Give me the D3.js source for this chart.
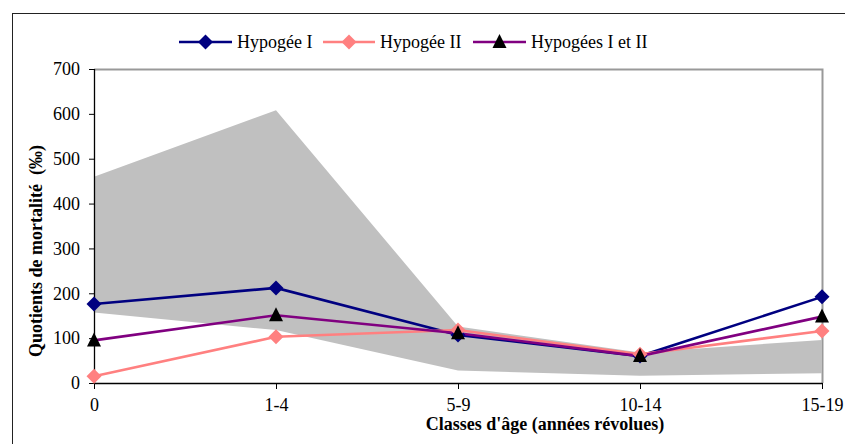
<!DOCTYPE html>
<html>
<head>
<meta charset="utf-8">
<script src="https://cdn.jsdelivr.net/npm/d3@7"></script>
<style>
  body { margin: 0; background: #fff; }
  svg text { font-family: "Liberation Serif", "Times New Roman", serif; fill: #000; }
</style>
</head>
<body>
<svg id="chart" width="845" height="444"></svg>
<script>
const ageClasses = ["0", "1-4", "5-9", "10-14", "15-19"];
const hypogee1 = [176, 212, 107, 60, 192];
const hypogee2 = [15, 103, 118, 64, 116];
const hypogees12 = [95, 151, 111, 60, 148];
const bandUpper = [460, 608, 126, 68, 96];
const bandLower = [157, 118, 28, 16, 22];
const yTicks = [0, 100, 200, 300, 400, 500, 600, 700];

const series = [
    { name: "Hypogée I", values: hypogee1, color: "#000080", marker: "diamond", markerColor: "#000080" },
    { name: "Hypogée II", values: hypogee2, color: "#FF8080", marker: "diamond", markerColor: "#FF8080" },
    { name: "Hypogées I et II", values: hypogees12, color: "#800080", marker: "triangle", markerColor: "#000000" }
];

const svg = d3.select("#chart");
const plot = { left: 94, right: 822, top: 69, bottom: 383 };

// outer frame
svg.append("rect")
    .attr("x", 12.5).attr("y", 13.5)
    .attr("width", 845).attr("height", 445)
    .attr("fill", "none").attr("stroke", "#222").attr("stroke-width", 1);

const x = d3.scalePoint().domain(ageClasses).range([plot.left, plot.right]);
const y = d3.scaleLinear().domain([0, 700]).range([plot.bottom, plot.top]);

// plot border (top and right)
svg.append("path")
    .attr("d", `M${plot.left},${plot.top + 0.5}H${plot.right + 0.5}V${plot.bottom}`)
    .attr("fill", "none").attr("stroke", "#999").attr("stroke-width", 2);

// gray band
const band = d3.area()
    .x((d, i) => x(ageClasses[i]))
    .y0((d, i) => y(bandLower[i]))
    .y1((d, i) => y(bandUpper[i]));
svg.append("path").datum(bandUpper).attr("d", band).attr("fill", "#C0C0C0");

// axes
const yAxis = d3.axisLeft(y).tickValues(yTicks).tickSize(5).tickPadding(9);
const gy = svg.append("g").attr("transform", `translate(${plot.left},0)`).call(yAxis);
const xAxis = d3.axisBottom(x).tickSize(6).tickPadding(9);
const gx = svg.append("g").attr("transform", `translate(0,${plot.bottom})`).call(xAxis);
[gy, gx].forEach(g => {
    g.selectAll("path.domain").attr("stroke", "#000").attr("stroke-width", 1.3);
    g.selectAll(".tick line").attr("stroke", "#000");
    g.selectAll(".tick text").attr("font-size", 18).attr("font-family", "Liberation Serif");
});
gx.select("path.domain").attr("d", `M${plot.left},0.5H${plot.right + 0.5}`);
gy.select("path.domain").attr("d", `M0.5,${plot.top}V${plot.bottom}`);

// lines
const line = d3.line().x((d, i) => x(ageClasses[i])).y(d => y(d));
series.forEach(s => {
    svg.append("path").datum(s.values)
        .attr("d", line)
        .attr("fill", "none").attr("stroke", s.color).attr("stroke-width", 2.6);
});

function drawMarker(g, type, cx, cy, color) {
    if (type === "diamond") {
        g.append("path")
            .attr("d", `M${cx},${cy - 7.5}L${cx + 7.5},${cy}L${cx},${cy + 7.5}L${cx - 7.5},${cy}Z`)
            .attr("fill", color);
    } else {
        g.append("path")
            .attr("d", `M${cx},${cy - 8}L${cx + 7},${cy + 6}L${cx - 7},${cy + 6}Z`)
            .attr("fill", color);
    }
}

series.forEach(s => {
    const g = svg.append("g");
    s.values.forEach((v, i) => drawMarker(g, s.marker, x(ageClasses[i]), y(v), s.markerColor));
});

// legend
const legendItems = [
    { x0: 179, x1: 232, tx: 237 },
    { x0: 323, x1: 375, tx: 380 },
    { x0: 473, x1: 526, tx: 531 }
];
const legendY = 42;
series.forEach((s, i) => {
    const L = legendItems[i];
    const g = svg.append("g");
    g.append("line").attr("x1", L.x0).attr("x2", L.x1).attr("y1", legendY).attr("y2", legendY)
        .attr("stroke", s.color).attr("stroke-width", 2.6);
    drawMarker(g, s.marker, (L.x0 + L.x1) / 2, legendY, s.markerColor);
    g.append("text").attr("x", L.tx).attr("y", legendY + 6)
        .attr("font-size", 18).text(s.name);
});

// axis titles
svg.append("text")
    .attr("x", 545).attr("y", 430)
    .attr("text-anchor", "middle").attr("font-size", 18).attr("font-weight", "bold")
    .text("Classes d'âge (années révolues)");
svg.append("text")
    .attr("transform", "translate(42,251) rotate(-90)")
    .attr("text-anchor", "middle").attr("font-size", 18).attr("font-weight", "bold")
    .style("white-space", "pre")
    .text("Quotients de mortalité  (‰)");
</script>
</body>
</html>
